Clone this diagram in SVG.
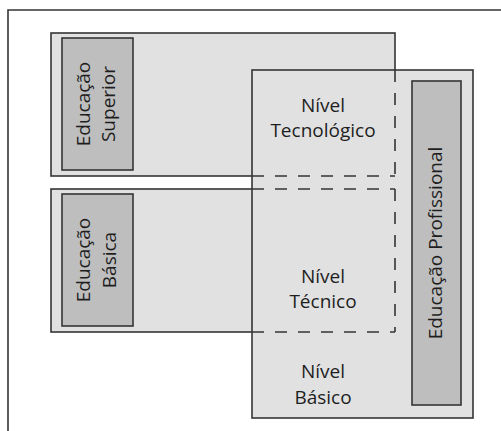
<svg xmlns="http://www.w3.org/2000/svg" width="501" height="431" viewBox="0 0 501 431">
<style>
.box{fill:#e1e1e1;stroke:#353535;stroke-width:1.6}
.inner{fill:#bebebe;stroke:#353535;stroke-width:1.6}
.frame{fill:none;stroke:#353535;stroke-width:1.6}
.dash{fill:none;stroke:#353535;stroke-width:1.6;stroke-dasharray:12 11}
.t{font-family:"Open Sans","Noto Sans","Liberation Sans",sans-serif;font-size:19px;fill:#1e1e1e;text-anchor:middle}
</style>
<rect width="501" height="431" fill="#ffffff"/>
<path class="frame" d="M8,431 V10 H501"/>
<g id="educacao-superior">
<rect class="box" x="51" y="33" width="344" height="143"/>
<rect class="inner" x="62" y="38" width="71" height="132"/>
<text class="t" transform="translate(90,104) rotate(-90)">Educação</text>
<text class="t" transform="translate(115,104) rotate(-90)">Superior</text>
</g>
<g id="educacao-basica">
<rect class="box" x="51" y="189" width="344" height="143"/>
<rect class="inner" x="62" y="194" width="71" height="132"/>
<text class="t" transform="translate(90,260) rotate(-90)">Educação</text>
<text class="t" transform="translate(116,260) rotate(-90)">Básica</text>
</g>
<g id="educacao-profissional">
<rect class="box" x="252" y="70" width="221" height="348"/>
<rect class="inner" x="412" y="81" width="49" height="324"/>
<text class="t" transform="translate(442,243) rotate(-90)">Educação Profissional</text>
</g>
<g id="connectors">
<path class="dash" d="M395,70 V176"/>
<path class="dash" d="M252,176 H395"/>
<path class="dash" d="M252,189 H395"/>
<path class="dash" d="M395,189 V332"/>
<path class="dash" d="M252,332 H395"/>
</g>
<g id="nivel-tecnologico">
<text class="t" x="323" y="112">Nível</text>
<text class="t" x="323" y="137">Tecnológico</text>
</g>
<g id="nivel-tecnico">
<text class="t" x="323" y="283">Nível</text>
<text class="t" x="323" y="308">Técnico</text>
</g>
<g id="nivel-basico">
<text class="t" x="323" y="378">Nível</text>
<text class="t" x="323" y="404">Básico</text>
</g>
</svg>
